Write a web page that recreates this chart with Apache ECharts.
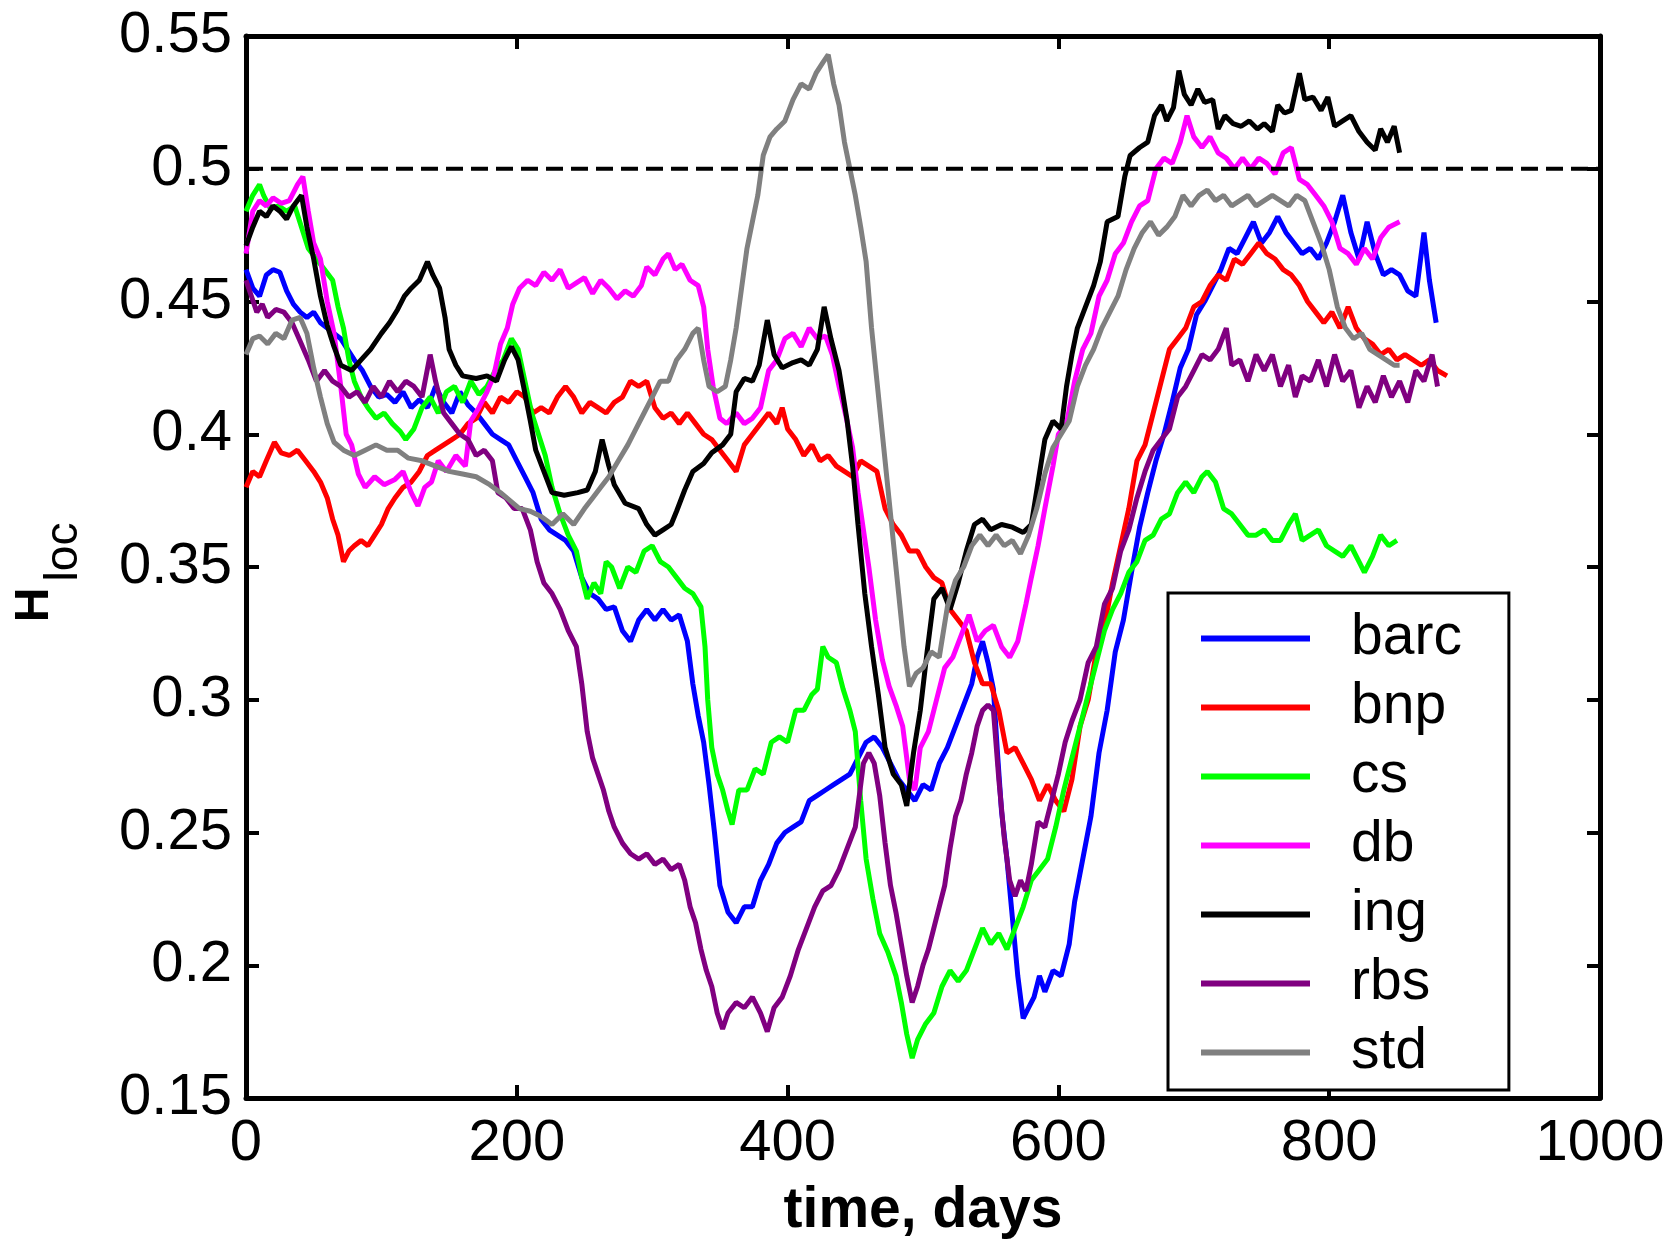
<!DOCTYPE html>
<html>
<head>
<meta charset="utf-8">
<title>Local Hurst exponent over time</title>
<script src="https://cdn.jsdelivr.net/npm/echarts@6/dist/echarts.min.js"></script>
<style>
  html, body { margin: 0; padding: 0; background: #ffffff; }
  #chart { width: 1673px; height: 1245px; }
</style>
</head>
<body>
<div id="chart"></div>
<script>
// Axis ticks
const xTicks = [0, 200, 400, 600, 800, 1000];
const yTicks = [0.15, 0.2, 0.25, 0.3, 0.35, 0.4, 0.45, 0.5, 0.55];
const referenceLevel = 0.5;

// Series names and colours (legend order)
const seriesNames = ['barc', 'bnp', 'cs', 'db', 'ing', 'rbs', 'std'];
const seriesColors = ['#0000ff', '#ff0000', '#00ff00', '#ff00ff', '#000000', '#800080', '#808080'];

// [day, H_loc] per bank
const barc = [[0,0.462],[5,0.455],[10,0.452],[15,0.460],[20,0.462],[25,0.461],[30,0.454],[35,0.449],[40,0.446],[45,0.444],[50,0.446],[55,0.442],[60,0.440],[65,0.438],[70,0.436],[75,0.432],[80,0.428],[86,0.424],[92,0.418],[98,0.414],[104,0.415],[110,0.412],[116,0.416],[122,0.410],[128,0.413],[134,0.410],[140,0.418],[146,0.412],[152,0.408],[158,0.416],[164,0.411],[170,0.408],[176,0.404],[182,0.400],[188,0.398],[194,0.396],[200,0.390],[206,0.384],[212,0.378],[218,0.368],[224,0.364],[230,0.362],[236,0.360],[242,0.356],[248,0.346],[254,0.340],[260,0.338],[266,0.334],[272,0.335],[278,0.326],[284,0.322],[290,0.330],[296,0.334],[302,0.330],[308,0.334],[314,0.330],[320,0.332],[326,0.322],[330,0.306],[334,0.294],[338,0.284],[342,0.268],[346,0.250],[350,0.230],[356,0.220],[362,0.216],[368,0.222],[374,0.222],[380,0.232],[386,0.238],[392,0.246],[398,0.250],[404,0.252],[410,0.254],[416,0.262],[422,0.264],[428,0.266],[434,0.268],[440,0.270],[446,0.272],[452,0.278],[458,0.284],[464,0.286],[470,0.282],[476,0.276],[482,0.270],[488,0.266],[494,0.262],[500,0.268],[506,0.266],[512,0.276],[518,0.282],[524,0.290],[530,0.298],[536,0.306],[540,0.316],[544,0.322],[548,0.314],[552,0.304],[555,0.280],[558,0.258],[562,0.240],[566,0.218],[570,0.196],[574,0.180],[578,0.184],[582,0.188],[586,0.196],[590,0.190],[596,0.198],[602,0.196],[608,0.208],[612,0.224],[618,0.240],[624,0.256],[630,0.280],[636,0.296],[642,0.318],[648,0.330],[654,0.348],[660,0.365],[666,0.378],[672,0.390],[678,0.400],[684,0.412],[690,0.425],[696,0.432],[702,0.445],[708,0.450],[714,0.456],[720,0.462],[726,0.470],[732,0.468],[738,0.474],[744,0.480],[750,0.472],[756,0.476],[762,0.482],[768,0.476],[774,0.472],[780,0.468],[786,0.470],[792,0.466],[798,0.472],[804,0.480],[810,0.490],[816,0.476],[822,0.466],[828,0.480],[834,0.468],[840,0.460],[846,0.462],[852,0.460],[858,0.454],[864,0.452],[870,0.476],[874,0.458],[879,0.442]];

const bnp = [[0,0.380],[5,0.386],[10,0.384],[15,0.390],[21,0.397],[26,0.393],[32,0.392],[38,0.394],[44,0.390],[50,0.386],[55,0.382],[60,0.376],[64,0.368],[68,0.362],[72,0.352],[76,0.356],[80,0.358],[85,0.360],[90,0.358],[95,0.362],[100,0.366],[105,0.372],[110,0.376],[116,0.380],[122,0.382],[128,0.386],[134,0.392],[140,0.394],[146,0.396],[152,0.398],[158,0.400],[164,0.404],[170,0.406],[176,0.412],[182,0.408],[188,0.414],[194,0.412],[200,0.416],[206,0.414],[212,0.408],[218,0.410],[224,0.408],[230,0.414],[236,0.418],[242,0.414],[248,0.408],[254,0.412],[260,0.410],[266,0.408],[272,0.412],[278,0.414],[284,0.420],[290,0.418],[296,0.420],[302,0.410],[308,0.406],[314,0.408],[320,0.404],[326,0.408],[332,0.404],[338,0.400],[344,0.398],[350,0.394],[356,0.390],[362,0.386],[368,0.396],[374,0.400],[380,0.404],[386,0.408],[392,0.404],[396,0.410],[400,0.402],[406,0.398],[412,0.392],[418,0.396],[424,0.390],[430,0.392],[436,0.388],[442,0.386],[448,0.384],[454,0.390],[460,0.388],[466,0.386],[472,0.372],[478,0.366],[484,0.362],[490,0.356],[496,0.356],[502,0.350],[508,0.346],[514,0.344],[520,0.334],[526,0.330],[532,0.326],[538,0.314],[544,0.306],[550,0.306],[556,0.296],[562,0.280],[568,0.282],[574,0.276],[580,0.270],[586,0.262],[592,0.268],[598,0.262],[604,0.258],[610,0.270],[616,0.290],[622,0.300],[628,0.318],[634,0.328],[640,0.344],[646,0.358],[652,0.372],[658,0.390],[664,0.396],[670,0.408],[676,0.420],[682,0.432],[688,0.436],[694,0.440],[700,0.448],[706,0.450],[712,0.456],[718,0.460],[724,0.458],[730,0.466],[736,0.464],[742,0.468],[748,0.472],[754,0.468],[760,0.466],[766,0.462],[772,0.460],[778,0.456],[784,0.450],[790,0.446],[796,0.442],[802,0.446],[808,0.440],[814,0.448],[820,0.440],[826,0.436],[832,0.434],[838,0.430],[844,0.432],[850,0.428],[856,0.430],[862,0.428],[868,0.426],[874,0.428],[880,0.424],[887,0.422]];

const cs = [[0,0.484],[5,0.490],[10,0.494],[13,0.490],[18,0.485],[24,0.486],[30,0.484],[36,0.486],[41,0.478],[46,0.470],[52,0.466],[58,0.462],[64,0.458],[68,0.448],[72,0.440],[76,0.428],[80,0.420],[85,0.414],[90,0.410],[96,0.406],[102,0.408],[108,0.404],[114,0.401],[118,0.398],[124,0.402],[130,0.410],[136,0.414],[142,0.408],[148,0.416],[154,0.418],[160,0.412],[166,0.420],[172,0.415],[178,0.418],[184,0.424],[190,0.428],[196,0.436],[201,0.432],[206,0.420],[211,0.408],[216,0.400],[221,0.392],[226,0.380],[232,0.370],[238,0.362],[244,0.356],[248,0.346],[252,0.338],[257,0.344],[262,0.340],[266,0.352],[270,0.350],[276,0.342],[282,0.350],[288,0.348],[294,0.356],[300,0.358],[306,0.352],[312,0.350],[318,0.346],[324,0.342],[330,0.340],[336,0.335],[339,0.320],[341,0.300],[344,0.282],[348,0.272],[352,0.266],[356,0.258],[359,0.253],[364,0.266],[370,0.266],[376,0.274],[382,0.272],[388,0.284],[394,0.286],[400,0.284],[406,0.296],[412,0.296],[418,0.302],[422,0.304],[426,0.320],[430,0.316],[436,0.314],[441,0.304],[446,0.296],[450,0.288],[454,0.262],[458,0.240],[463,0.225],[468,0.212],[474,0.205],[480,0.196],[484,0.186],[488,0.174],[492,0.165],[496,0.172],[502,0.178],[508,0.182],[514,0.192],[520,0.198],[526,0.194],[532,0.198],[538,0.206],[544,0.214],[550,0.208],[556,0.212],[562,0.206],[568,0.214],[574,0.222],[580,0.232],[586,0.236],[592,0.240],[598,0.252],[604,0.266],[610,0.278],[616,0.290],[622,0.302],[628,0.314],[634,0.326],[640,0.334],[646,0.340],[652,0.348],[658,0.352],[664,0.360],[670,0.362],[676,0.368],[682,0.370],[688,0.378],[694,0.382],[700,0.378],[706,0.384],[710,0.386],[716,0.382],[722,0.372],[728,0.370],[734,0.366],[740,0.362],[746,0.362],[752,0.364],[758,0.360],[764,0.360],[770,0.366],[775,0.370],[780,0.360],[786,0.362],[792,0.364],[798,0.358],[804,0.356],[810,0.354],[816,0.358],[822,0.352],[826,0.348],[832,0.354],[838,0.362],[844,0.358],[850,0.360]];

const db = [[0,0.468],[5,0.484],[10,0.488],[15,0.486],[20,0.489],[26,0.487],[32,0.488],[38,0.494],[42,0.497],[46,0.484],[50,0.472],[55,0.466],[60,0.450],[65,0.438],[70,0.418],[74,0.400],[78,0.396],[83,0.385],[88,0.380],[95,0.384],[102,0.381],[110,0.383],[116,0.386],[122,0.378],[127,0.373],[132,0.380],[137,0.382],[142,0.390],[148,0.386],[155,0.392],[162,0.388],[166,0.405],[172,0.410],[178,0.416],[183,0.422],[188,0.434],[193,0.440],[197,0.449],[202,0.455],[208,0.458],[214,0.456],[220,0.461],[226,0.458],[232,0.462],[238,0.455],[244,0.457],[250,0.459],[256,0.453],[262,0.458],[268,0.455],[274,0.451],[280,0.454],[286,0.452],[292,0.456],[296,0.463],[302,0.460],[308,0.466],[312,0.468],[317,0.462],[322,0.464],[328,0.458],[334,0.456],[338,0.448],[341,0.432],[345,0.418],[350,0.406],[355,0.404],[362,0.408],[368,0.404],[374,0.406],[380,0.410],[386,0.424],[392,0.428],[398,0.436],[404,0.438],[410,0.433],[416,0.440],[422,0.436],[428,0.437],[433,0.430],[438,0.418],[443,0.407],[448,0.395],[452,0.378],[456,0.364],[460,0.350],[465,0.330],[470,0.315],[475,0.305],[480,0.298],[485,0.290],[490,0.270],[494,0.266],[498,0.282],[504,0.288],[510,0.300],[516,0.312],[522,0.316],[528,0.324],[534,0.332],[540,0.322],[546,0.326],[552,0.328],[558,0.320],[564,0.316],[570,0.322],[576,0.336],[580,0.346],[585,0.358],[590,0.372],[596,0.388],[600,0.400],[606,0.404],[612,0.420],[618,0.432],[624,0.438],[630,0.452],[636,0.458],[642,0.468],[648,0.472],[654,0.480],[660,0.486],[666,0.488],[672,0.500],[678,0.504],[684,0.502],[690,0.510],[695,0.520],[700,0.512],[706,0.508],[712,0.512],[718,0.506],[724,0.504],[730,0.500],[736,0.504],[742,0.500],[748,0.504],[754,0.502],[760,0.498],[766,0.506],[772,0.508],[778,0.496],[784,0.494],[790,0.490],[796,0.486],[802,0.480],[808,0.470],[814,0.468],[820,0.464],[826,0.470],[832,0.466],[838,0.474],[844,0.478],[852,0.480]];

const ing = [[0,0.471],[5,0.478],[10,0.484],[15,0.482],[20,0.486],[25,0.484],[30,0.481],[35,0.486],[41,0.490],[45,0.478],[50,0.466],[55,0.452],[60,0.441],[65,0.433],[70,0.426],[78,0.424],[85,0.428],[92,0.432],[100,0.438],[106,0.442],[112,0.447],[117,0.452],[122,0.455],[128,0.458],[134,0.465],[138,0.460],[143,0.455],[147,0.444],[150,0.432],[155,0.426],[160,0.422],[170,0.421],[178,0.422],[185,0.420],[191,0.428],[196,0.433],[201,0.428],[205,0.418],[210,0.405],[214,0.394],[220,0.386],[226,0.378],[235,0.377],[245,0.378],[252,0.379],[258,0.386],[263,0.398],[268,0.388],[272,0.381],[280,0.374],[290,0.372],[296,0.366],[302,0.362],[308,0.364],[314,0.366],[318,0.371],[324,0.379],[330,0.386],[338,0.389],[344,0.393],[352,0.396],[358,0.400],[362,0.416],[368,0.421],[374,0.420],[379,0.426],[385,0.443],[390,0.430],[396,0.425],[404,0.427],[410,0.428],[416,0.426],[422,0.432],[427,0.448],[432,0.436],[438,0.424],[444,0.405],[448,0.388],[452,0.366],[457,0.340],[462,0.320],[467,0.302],[472,0.282],[478,0.272],[484,0.268],[488,0.260],[493,0.280],[498,0.296],[503,0.318],[508,0.338],[514,0.342],[520,0.334],[526,0.344],[532,0.356],[538,0.366],[544,0.368],[550,0.364],[558,0.366],[566,0.365],[574,0.363],[580,0.366],[585,0.382],[590,0.398],[596,0.405],[602,0.402],[606,0.418],[610,0.430],[614,0.440],[620,0.448],[626,0.456],[631,0.465],[636,0.480],[644,0.482],[649,0.497],[653,0.505],[660,0.508],[666,0.510],[671,0.520],[676,0.524],[680,0.518],[685,0.523],[689,0.537],[693,0.528],[698,0.524],[703,0.530],[708,0.525],[714,0.526],[718,0.515],[723,0.520],[729,0.517],[735,0.516],[741,0.518],[747,0.515],[752,0.517],[758,0.514],[762,0.524],[767,0.521],[772,0.522],[778,0.536],[782,0.526],[788,0.527],[794,0.522],[799,0.527],[804,0.516],[810,0.518],[816,0.520],[822,0.514],[828,0.510],[834,0.507],[838,0.515],[843,0.510],[848,0.516],[852,0.506]];

const rbs = [[0,0.458],[4,0.452],[8,0.446],[12,0.449],[16,0.444],[22,0.447],[28,0.446],[34,0.442],[40,0.435],[46,0.428],[52,0.420],[58,0.424],[64,0.420],[70,0.418],[76,0.414],[82,0.416],[88,0.412],[94,0.418],[100,0.414],[106,0.420],[112,0.416],[118,0.420],[124,0.418],[130,0.414],[136,0.430],[140,0.420],[146,0.408],[152,0.404],[158,0.400],[164,0.398],[170,0.392],[176,0.394],[182,0.390],[186,0.378],[192,0.376],[198,0.372],[204,0.372],[210,0.364],[215,0.352],[220,0.344],[226,0.340],[232,0.334],[238,0.326],[244,0.320],[248,0.306],[252,0.288],[256,0.278],[260,0.272],[264,0.266],[268,0.258],[272,0.252],[278,0.246],[284,0.242],[290,0.240],[296,0.242],[302,0.238],[308,0.240],[314,0.236],[320,0.238],[324,0.232],[328,0.222],[332,0.216],[336,0.206],[340,0.198],[344,0.192],[348,0.182],[352,0.176],[356,0.182],[362,0.186],[368,0.184],[374,0.188],[380,0.182],[385,0.175],[390,0.184],[396,0.188],[402,0.196],[408,0.206],[414,0.214],[420,0.222],[426,0.228],[432,0.230],[438,0.236],[444,0.244],[450,0.252],[456,0.276],[460,0.280],[464,0.276],[468,0.264],[472,0.246],[476,0.230],[480,0.220],[484,0.208],[488,0.196],[492,0.186],[496,0.192],[500,0.200],[504,0.206],[508,0.214],[512,0.222],[516,0.230],[520,0.244],[524,0.256],[528,0.262],[532,0.272],[536,0.280],[540,0.290],[544,0.296],[548,0.298],[552,0.296],[556,0.270],[560,0.248],[564,0.232],[568,0.226],[572,0.232],[576,0.228],[580,0.238],[585,0.254],[590,0.252],[595,0.262],[600,0.272],[605,0.284],[610,0.292],[616,0.300],[622,0.314],[628,0.320],[634,0.336],[640,0.342],[646,0.356],[652,0.364],[658,0.376],[664,0.386],[670,0.394],[676,0.398],[682,0.402],[688,0.414],[694,0.418],[700,0.424],[706,0.430],[712,0.428],[718,0.432],[724,0.440],[728,0.426],[734,0.428],[740,0.420],[746,0.430],[752,0.424],[758,0.430],[764,0.418],[770,0.426],[775,0.414],[780,0.422],[786,0.420],[792,0.428],[798,0.418],[804,0.430],[810,0.420],[816,0.424],[822,0.410],[828,0.418],[834,0.412],[840,0.422],[846,0.414],[852,0.420],[858,0.412],[864,0.424],[870,0.420],[876,0.430],[880,0.418]];

const std = [[0,0.430],[5,0.436],[10,0.437],[16,0.434],[22,0.438],[28,0.436],[34,0.443],[40,0.444],[45,0.438],[50,0.425],[55,0.414],[60,0.404],[65,0.397],[72,0.394],[80,0.392],[88,0.394],[96,0.396],[104,0.394],[112,0.394],[120,0.391],[130,0.390],[140,0.388],[150,0.386],[160,0.385],[170,0.384],[180,0.381],[188,0.378],[195,0.375],[202,0.372],[210,0.371],[218,0.369],[226,0.366],[234,0.370],[242,0.366],[250,0.372],[256,0.376],[262,0.380],[268,0.384],[275,0.390],[282,0.396],[288,0.402],[294,0.408],[300,0.414],[306,0.420],[312,0.420],[318,0.428],[324,0.432],[330,0.438],[334,0.440],[338,0.428],[342,0.418],[348,0.416],[354,0.418],[358,0.428],[362,0.440],[366,0.455],[370,0.470],[374,0.480],[378,0.490],[382,0.505],[387,0.512],[392,0.515],[398,0.518],[404,0.526],[410,0.532],[416,0.530],[421,0.536],[426,0.540],[430,0.543],[434,0.532],[438,0.524],[442,0.510],[446,0.500],[450,0.490],[454,0.478],[458,0.465],[462,0.440],[466,0.420],[470,0.400],[474,0.380],[478,0.360],[482,0.340],[486,0.320],[490,0.305],[495,0.310],[500,0.312],[506,0.318],[512,0.316],[518,0.335],[524,0.345],[530,0.350],[536,0.358],[542,0.362],[548,0.358],[554,0.362],[560,0.358],[566,0.360],[572,0.355],[578,0.362],[584,0.372],[590,0.385],[596,0.395],[602,0.400],[608,0.405],[614,0.418],[620,0.426],[626,0.432],[632,0.440],[638,0.446],[644,0.452],[650,0.462],[656,0.470],[662,0.476],[668,0.480],[674,0.475],[680,0.478],[686,0.482],[692,0.490],[698,0.486],[704,0.490],[710,0.492],[716,0.488],[722,0.490],[728,0.486],[734,0.488],[740,0.490],[746,0.486],[752,0.488],[758,0.490],[764,0.488],[770,0.486],[776,0.490],[782,0.488],[788,0.480],[794,0.472],[800,0.462],[806,0.448],[812,0.440],[818,0.436],[824,0.438],[830,0.432],[836,0.430],[842,0.428],[848,0.426],[852,0.426]];

const seriesData = [barc, bnp, cs, db, ing, rbs, std];

const FONT = '"Liberation Sans", Arial, Helvetica, sans-serif';

const chart = echarts.init(document.getElementById('chart'), null, { renderer: 'canvas' });

const axisLineStyle = { show: true, lineStyle: { color: '#000', width: 5 } };
const tickStyle = { show: true, inside: true, length: 13, lineStyle: { color: '#000', width: 4 } };

const xMin = xTicks[0], xMax = xTicks[xTicks.length - 1], xStep = xTicks[1] - xTicks[0];
const yMin = yTicks[0], yMax = yTicks[yTicks.length - 1];
const yStep = +(yTicks[1] - yTicks[0]).toFixed(4);

const lineSeries = seriesNames.map((name, i) => ({
  name: name,
  type: 'line',
  data: seriesData[i],
  showSymbol: false,
  symbol: 'none',
  color: seriesColors[i],
  lineStyle: { color: seriesColors[i], width: 5 },
  emphasis: { disabled: true },
  z: 2 + i
}));

// horizontal dashed reference at H = 0.5
lineSeries.push({
  name: 'level',
  type: 'line',
  data: [[xMin, referenceLevel], [xMax, referenceLevel]],
  showSymbol: false,
  symbol: 'none',
  lineStyle: { color: '#000', width: 4, type: [17, 8] },
  emphasis: { disabled: true },
  z: 20
});

chart.setOption({
  animation: false,
  backgroundColor: '#ffffff',
  grid: { left: 246, right: 73, top: 36, bottom: 142, containLabel: false },
  xAxis: [
    {
      type: 'value', position: 'bottom', min: xMin, max: xMax, interval: xStep,
      axisLine: Object.assign({ onZero: false }, axisLineStyle),
      axisTick: tickStyle,
      splitLine: { show: false },
      axisLabel: { show: true, color: '#000', fontSize: 58, fontFamily: FONT, margin: 17, formatter: v => String(v) },
      name: 'time, days', nameLocation: 'middle', nameGap: 85,
      nameTextStyle: { color: '#000', fontSize: 57, fontWeight: 'bold', fontFamily: FONT }
    },
    {
      type: 'value', position: 'top', min: xMin, max: xMax, interval: xStep,
      axisLine: Object.assign({ onZero: false }, axisLineStyle),
      axisTick: tickStyle,
      splitLine: { show: false },
      axisLabel: { show: false }
    }
  ],
  yAxis: [
    {
      type: 'value', position: 'left', min: yMin, max: yMax, interval: yStep,
      axisLine: Object.assign({ onZero: false }, axisLineStyle),
      axisTick: tickStyle,
      splitLine: { show: false },
      axisLabel: {
        show: true, color: '#000', fontSize: 58, fontFamily: FONT, margin: 14,
        formatter: v => String(+(+v).toFixed(2))
      }
    },
    {
      type: 'value', position: 'right', min: yMin, max: yMax, interval: yStep,
      axisLine: Object.assign({ onZero: false }, axisLineStyle),
      axisTick: tickStyle,
      splitLine: { show: false },
      axisLabel: { show: false }
    }
  ],
  legend: {
    data: seriesNames,
    orient: 'vertical',
    left: 1168,
    top: 593,
    padding: [17, 47, 9, 33],
    itemGap: 12,
    itemWidth: 109,
    itemHeight: 6,
    icon: 'rect',
    selectedMode: false,
    backgroundColor: '#ffffff',
    borderColor: '#000000',
    borderWidth: 3,
    borderRadius: 0,
    textStyle: { color: '#000', fontSize: 57, fontFamily: FONT, lineHeight: 57, padding: [0, 0, 0, 36] }
  },
  graphic: [
    {
      type: 'text', x: 35, y: 605, rotation: Math.PI / 2,
      style: { text: 'H', font: 'bold 48px ' + FONT, fill: '#000', align: 'center', verticalAlign: 'middle' }
    },
    {
      type: 'text', x: 64, y: 552, rotation: Math.PI / 2,
      style: { text: 'loc', font: '46px ' + FONT, fill: '#000', align: 'center', verticalAlign: 'middle' }
    }
  ],
  series: lineSeries
});
</script>
</body>
</html>
